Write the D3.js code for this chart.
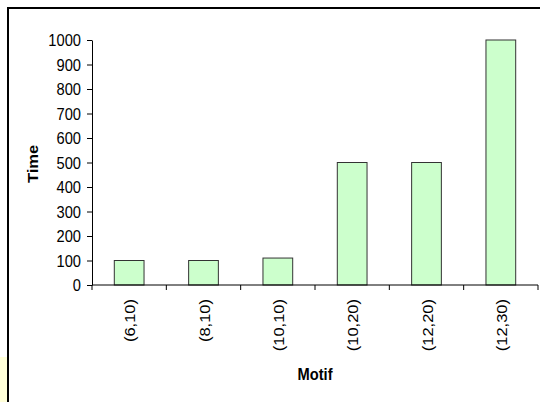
<!DOCTYPE html>
<html>
<head>
<meta charset="utf-8">
<script src="https://cdn.jsdelivr.net/npm/d3@7"></script>
<style>
  html, body { margin: 0; padding: 0; background: #fff; }
  svg { display: block; font-family: Arial, "Liberation Sans", sans-serif; }
</style>
</head>
<body>
<svg id="chart" width="540" height="402"></svg>
<script>
// Run times per motif (length, mismatches)
const motifs = ["(6,10)", "(8,10)", "(10,10)", "(10,20)", "(12,20)", "(12,30)"];
const times = [100, 100, 110, 500, 500, 1000];
const yTicks = [0, 100, 200, 300, 400, 500, 600, 700, 800, 900, 1000];

const FONT = "Arial, 'Liberation Sans', sans-serif";
const SQUEEZE = 0.89;   // glyphs are drawn slightly condensed horizontally

const svg = d3.select("#chart");

// Pale yellow strip and the chart frame
svg.append("rect").attr("x", 0).attr("y", 357).attr("width", 8).attr("height", 45)
  .attr("fill", "#ffffd8");
svg.append("rect").attr("x", 8).attr("y", 8).attr("width", 540).attr("height", 400)
  .attr("fill", "#fff").attr("stroke", "#000").attr("stroke-width", 2);

const plot = { left: 92, right: 538, top: 40, bottom: 285 };

const x = d3.scaleBand().domain(motifs).range([plot.left, plot.right])
  .paddingInner(0.6).paddingOuter(0.3);
const y = d3.scaleLinear().domain([0, 1000]).range([plot.bottom, plot.top]);

// Bars
svg.append("g").selectAll("rect").data(motifs).join("rect")
  .attr("x", d => x(d))
  .attr("y", (d, i) => y(times[i]))
  .attr("width", x.bandwidth())
  .attr("height", (d, i) => y(0) - y(times[i]))
  .attr("fill", "#ccffcc")
  .attr("stroke", "#333")
  .attr("stroke-width", 1);

// Y axis
const yAxis = svg.append("g").attr("transform", `translate(${plot.left},0)`)
  .call(d3.axisLeft(y).tickValues(yTicks).tickFormat(d3.format("d"))
    .tickSize(5).tickSizeOuter(0));
yAxis.selectAll("line, path").attr("stroke", "#000");
yAxis.selectAll("text")
  .attr("x", 0).attr("dy", "0.36em")
  .attr("transform", `translate(-11,0) scale(${SQUEEZE},1)`)
  .attr("text-anchor", "end")
  .attr("font-size", 16.5).attr("font-family", FONT).attr("fill", "#000");

// X axis: baseline with ticks at category boundaries
const xAxisG = svg.append("g").attr("transform", `translate(0,${plot.bottom})`);
xAxisG.append("line").attr("x1", plot.left).attr("x2", plot.right).attr("stroke", "#000");
const bounds = d3.range(motifs.length + 1)
  .map(i => plot.left + i * (plot.right - plot.left) / motifs.length);
xAxisG.selectAll("line.tick").data(bounds).join("line").attr("class", "tick")
  .attr("x1", d => d).attr("x2", d => d).attr("y1", 0).attr("y2", 5)
  .attr("stroke", "#000");
xAxisG.selectAll("text").data(motifs).join("text")
  .attr("transform", d =>
    `translate(${x(d) + x.bandwidth() / 2 + 1},14) scale(${SQUEEZE},1) rotate(-90)`)
  .attr("text-anchor", "end")
  .attr("dy", "0.36em")
  .attr("font-size", 16.5).attr("font-family", FONT).attr("fill", "#000")
  .text(d => d);

// Axis titles
svg.append("text")
  .attr("transform", `translate(315,380) scale(${SQUEEZE},1)`)
  .attr("text-anchor", "middle").attr("font-family", FONT)
  .attr("font-size", 16.5).attr("font-weight", "bold").text("Motif");
svg.append("text")
  .attr("transform", `translate(38,164) scale(${SQUEEZE},1) rotate(-90)`)
  .attr("text-anchor", "middle").attr("font-family", FONT)
  .attr("font-size", 16.5).attr("font-weight", "bold").text("Time");
</script>
</body>
</html>
